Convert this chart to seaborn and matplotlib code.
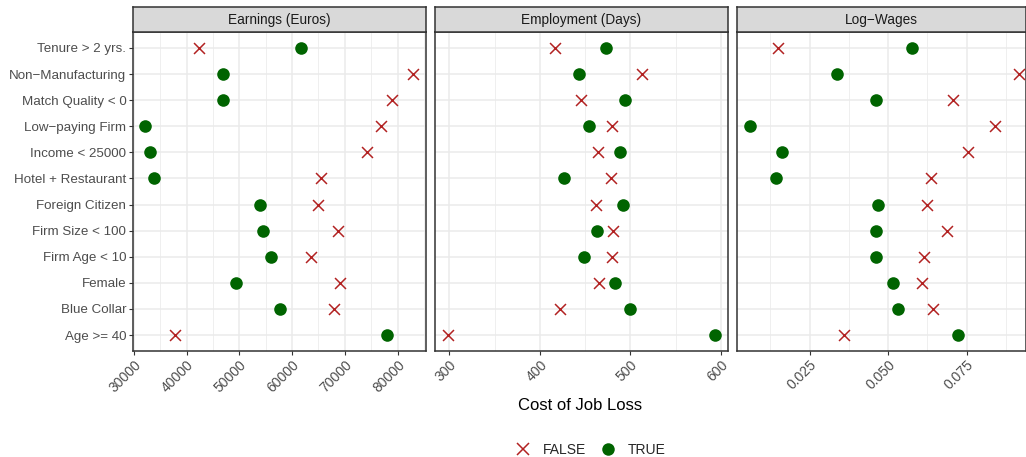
import matplotlib
matplotlib.use("Agg")
import matplotlib.pyplot as plt
from matplotlib.lines import Line2D
from matplotlib.ticker import FixedLocator
import seaborn as sns
import pandas as pd

# Worker groups, top to bottom
groups = [
    "Tenure > 2 yrs.", "Non\u2212Manufacturing", "Match Quality < 0",
    "Low\u2212paying Firm", "Income < 25000", "Hotel + Restaurant",
    "Foreign Citizen", "Firm Size < 100", "Firm Age < 10", "Female",
    "Blue Collar", "Age >= 40",
]

# Cost of job loss when the group condition is FALSE / TRUE
earnings_false = [42300, 82850, 79000, 76850, 74250, 65500, 65000, 68750, 63550, 69050, 67950, 37850]
earnings_true = [61600, 46850, 46950, 32100, 33000, 33850, 53950, 54400, 56000, 49400, 57750, 78000]

employment_false = [417, 513, 445, 480, 464.5, 478, 462, 481, 480, 465, 422.5, 299]
employment_true = [473, 443, 494, 454.5, 489, 426.5, 491.5, 463, 449, 483, 500, 593]

logwage_false = [0.0149, 0.0916, 0.0708, 0.0842, 0.0755, 0.0637, 0.0623, 0.0689, 0.0614, 0.0607, 0.0644, 0.0360]
logwage_true = [0.0577, 0.0336, 0.0460, 0.0061, 0.0163, 0.0144, 0.0467, 0.0460, 0.0461, 0.0517, 0.0533, 0.0722]

panel_titles = ["Earnings (Euros)", "Employment (Days)", "Log\u2212Wages"]

COL_FALSE = "#B22222"
COL_TRUE = "#006400"
GRID = "#EBEBEB"
FRAME = "#333333"
TICKTXT = "#4D4D4D"

sns.set_theme(style="white")
plt.rcParams["font.family"] = ["Liberation Sans", "DejaVu Sans"]

def long_frame(false_vals, true_vals):
    rows = []
    for g, v in zip(groups, false_vals):
        rows.append({"group": g, "cost": v, "flag": "FALSE"})
    for g, v in zip(groups, true_vals):
        rows.append({"group": g, "cost": v, "flag": "TRUE"})
    return pd.DataFrame(rows)

frames = [
    long_frame(earnings_false, earnings_true),
    long_frame(employment_false, employment_true),
    long_frame(logwage_false, logwage_true),
]

xlims = [(29886, 85400), (283.9, 607.4), (0.00173, 0.0938)]
major = [[30000, 40000, 50000, 60000, 70000, 80000], [300, 400, 500, 600], [0.025, 0.050, 0.075]]
minor = [[35000, 45000, 55000, 65000, 75000, 85000], [350, 450, 550], [0.0125, 0.0375, 0.0625, 0.0875]]
xlabels = [
    [str(v) for v in major[0]],
    [str(v) for v in major[1]],
    ["0.025", "0.050", "0.075"],
]

W, H = 1026, 457
fig = plt.figure(figsize=(W / 100, H / 100), dpi=100)

panel_left = [133.3, 434.7, 736.7]
panel_w = [292.7, 293.0, 288.8]
top_px, bottom_px = 32.3, 350.7
strip_top = 7.0

for i in range(3):
    l = panel_left[i] / W
    b = 1 - bottom_px / H
    w = panel_w[i] / W
    h = (bottom_px - top_px) / H
    ax = fig.add_axes([l, b, w, h])
    df = frames[i]

    sns.scatterplot(data=df[df.flag == "FALSE"], x="cost", y="group", ax=ax,
                    color=COL_FALSE, marker="x", s=62, linewidth=1.1,
                    legend=False, zorder=3)
    sns.scatterplot(data=df[df.flag == "TRUE"], x="cost", y="group", ax=ax,
                    color=COL_TRUE, marker="o", s=82, linewidth=0,
                    legend=False, zorder=3)

    ax.set_xlim(*xlims[i])
    ax.set_ylim(len(groups) - 1 + 0.6, -0.6)
    ax.xaxis.set_major_locator(FixedLocator(major[i]))
    ax.xaxis.set_minor_locator(FixedLocator(minor[i]))
    ax.set_xticklabels(xlabels[i], rotation=45, ha="right", va="top",
                       rotation_mode="anchor", color=TICKTXT, fontsize=10)

    ax.grid(True, which="major", color=GRID, linewidth=1.1, zorder=0)
    ax.grid(True, which="minor", axis="x", color=GRID, linewidth=0.55, zorder=0)
    ax.set_axisbelow(True)
    ax.set_facecolor("white")
    for sp in ax.spines.values():
        sp.set_color(FRAME)
        sp.set_linewidth(1.1)

    ax.tick_params(axis="x", which="major", length=3, width=0.8, color=FRAME,
                   pad=2, bottom=True)
    ax.tick_params(axis="x", which="minor", length=0)
    if i == 0:
        ax.tick_params(axis="y", length=3, width=0.8, color=FRAME, pad=2,
                       left=True, labelsize=9.6, labelcolor=TICKTXT)
    else:
        ax.tick_params(axis="y", length=0, labelleft=False)
    ax.set_xlabel("")
    ax.set_ylabel("")

    # facet strip
    sax = fig.add_axes([l, 1 - top_px / H, w, (top_px - strip_top) / H])
    sax.set_facecolor("#D9D9D9")
    sax.set_xticks([])
    sax.set_yticks([])
    for sp in sax.spines.values():
        sp.set_color(FRAME)
        sp.set_linewidth(1.1)
    sax.text(0.5, 0.5, panel_titles[i], ha="center", va="center",
             fontsize=9.8, color="#1A1A1A", transform=sax.transAxes)

fig.text(580 / W, 1 - 405 / H, "Cost of Job Loss", ha="center", va="center",
         fontsize=12, color="black")

handles = [
    Line2D([], [], linestyle="none", marker="x", markersize=8, markeredgewidth=1.1,
           color=COL_FALSE, label="FALSE"),
    Line2D([], [], linestyle="none", marker="o", markersize=9, markeredgewidth=0,
           color=COL_TRUE, label="TRUE"),
]
fig.legend(handles=handles, loc="center", bbox_to_anchor=(590 / W, 1 - 450 / H),
           ncol=2, frameon=False, fontsize=10, handletextpad=0.85,
           columnspacing=0.95, handlelength=1.2)

fig.savefig("out.png", dpi=100)
